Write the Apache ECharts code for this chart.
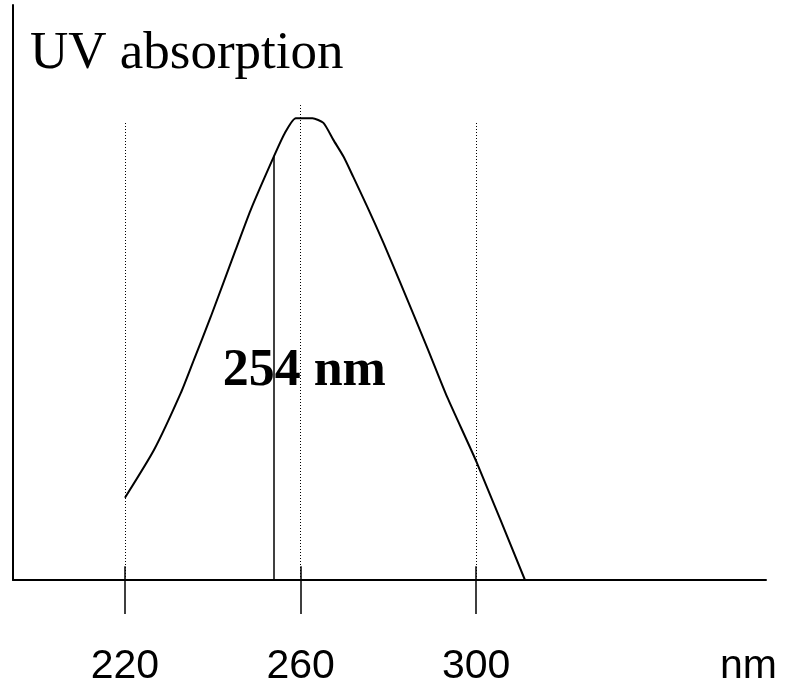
<!DOCTYPE html>
<html>
<head>
<meta charset="utf-8">
<script src="https://cdn.jsdelivr.net/npm/echarts@6/dist/echarts.min.js"></script>
<style>
  html, body { margin: 0; padding: 0; background: #fff; }
  #chart { width: 800px; height: 683px; }
</style>
</head>
<body>
<div id="chart"></div>
<script>
// Absorption spectrum: wavelength (nm) and relative absorbance
const wavelengths = [220, 226.6, 232.7, 235.7, 239.5, 245.2, 248.6, 254, 256.4, 258.9, 262.7, 265.2, 267.5, 269.8, 272.0, 275.2, 278.9, 282.7, 288.9, 293.4, 300.2, 311.1];
const absorbance  = [14.3, 22.6, 32.5, 38.3, 45.7, 57.4, 64.3, 73.8, 77.7, 80.3, 80.3, 79.5, 76.5, 73.6, 70.1, 64.9, 58.6, 51.7, 40.3, 31.8, 20.3, 0];

// Labelled wavelengths on the axis and the height of their dotted guides
const tickWavelengths = [220, 260, 300];
const tickLabels = ['220', '260', '300'];
const guideHeights = [79.7, 82.6, 79.7];

// Detection wavelength marker
const markerWavelength = 254;
const markerHeight = 73.8;
const markerText = '254 nm';

const axisFont = '"Liberation Sans Narrow", "Arial Narrow", "Liberation Sans", Arial, sans-serif';

const chart = echarts.init(document.getElementById('chart'), null, { renderer: 'canvas' });

const guideLines = tickWavelengths.map((w, i) => [
  { coord: [w, 0] }, { coord: [w, guideHeights[i]] }
]);
const tickStubs = tickWavelengths.map(w => [
  { coord: [w, 0] }, { coord: [w, 2.4] }
]);

chart.setOption({
  animation: false,
  backgroundColor: '#ffffff',
  title: {
    text: 'UV absorption',
    left: 25,
    top: 23,
    textStyle: {
      fontFamily: '"Liberation Serif", "Times New Roman", serif',
      fontWeight: 'normal',
      fontSize: 53,
      color: '#000'
    }
  },
  grid: { left: 13, right: 34, top: 5, bottom: 103, outerBoundsMode: 'none', containLabel: false },
  xAxis: {
    type: 'value',
    min: 194.5,
    max: 366,
    name: 'nm',
    nameLocation: 'end',
    nameGap: 11,
    nameTextStyle: {
      fontFamily: axisFont,
      fontSize: 41,
      color: '#000',
      align: 'right',
      verticalAlign: 'top',
      padding: [66, 0, 0, 0]
    },
    axisLine: { show: true, lineStyle: { color: '#000', width: 2 } },
    axisTick: {
      show: true,
      inside: false,
      length: 34,
      customValues: tickWavelengths,
      lineStyle: { color: '#000', width: 1.5 }
    },
    axisLabel: {
      show: true,
      margin: 66,
      customValues: tickWavelengths,
      formatter: v => tickLabels[tickWavelengths.indexOf(v)] || '',
      fontFamily: axisFont,
      fontSize: 41,
      color: '#000'
    },
    splitLine: { show: false }
  },
  yAxis: {
    type: 'value',
    min: 0,
    max: 100,
    axisLine: { show: true, lineStyle: { color: '#000', width: 2 } },
    axisTick: { show: false },
    axisLabel: { show: false },
    splitLine: { show: false }
  },
  series: [
    {
      type: 'line',
      data: wavelengths.map((w, i) => [w, absorbance[i]]),
      showSymbol: false,
      symbol: 'none',
      smooth: 0.2,
      lineStyle: { color: '#000', width: 2 },
      silent: true,
      z: 3,
      markLine: {
        silent: true,
        symbol: ['none', 'none'],
        label: { show: false },
        lineStyle: { color: '#000', width: 1, type: [1, 2] },
        data: guideLines
      }
    },
    {
      type: 'line',
      data: [],
      silent: true,
      markLine: {
        silent: true,
        symbol: ['none', 'none'],
        label: { show: false },
        lineStyle: { color: '#000', width: 1.5, type: 'solid' },
        data: tickStubs.concat([
          [{ coord: [markerWavelength, 0] }, { coord: [markerWavelength, markerHeight] }]
        ])
      },
      markPoint: {
        silent: true,
        symbol: 'circle',
        symbolSize: 0,
        data: [{ coord: [markerWavelength, 36.2] }],
        label: {
          show: true,
          position: 'inside',
          offset: [30, 0],
          formatter: markerText,
          fontFamily: '"Liberation Serif", "Times New Roman", serif',
          fontWeight: 'bold',
          fontSize: 52,
          color: '#000'
        }
      }
    }
  ]
});
</script>
</body>
</html>
